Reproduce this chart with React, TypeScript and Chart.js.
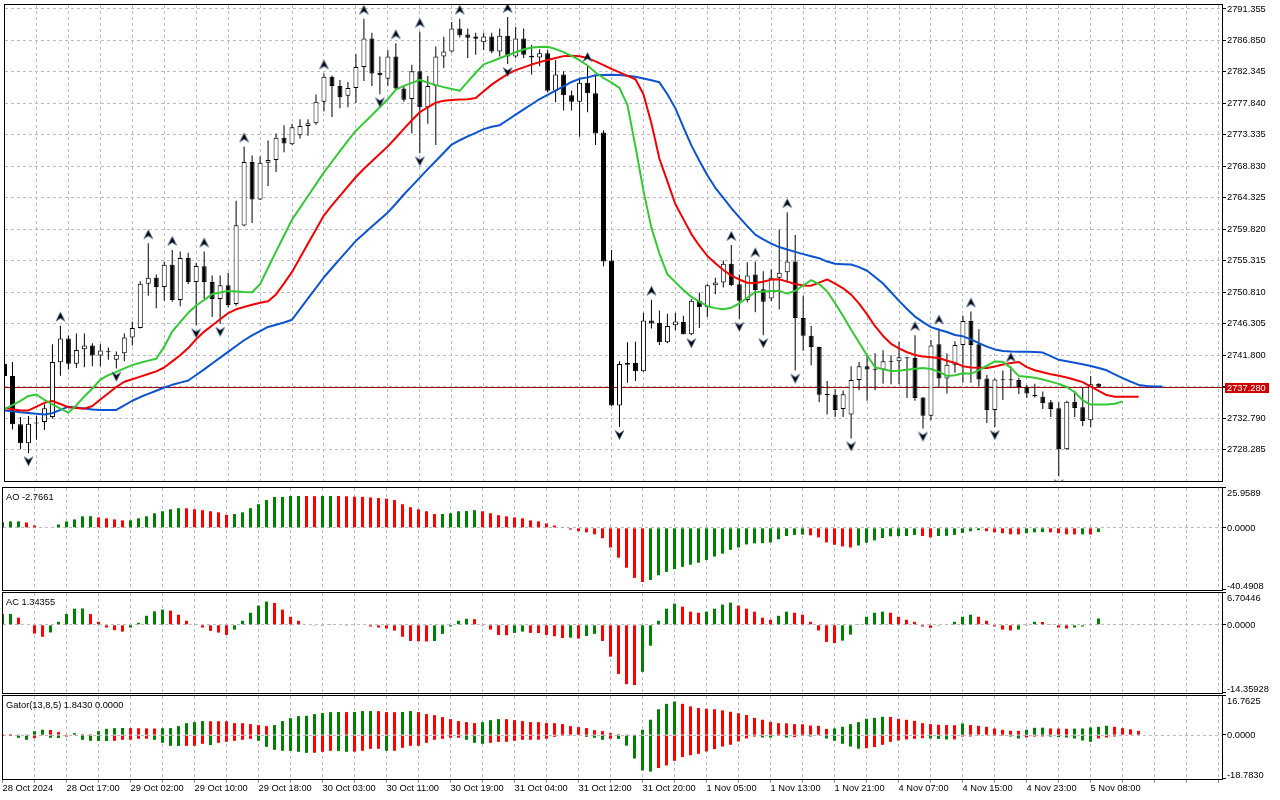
import React, { useEffect, useRef } from "react";
import { Chart, registerables } from "chart.js";

Chart.register(...registerables);

// ---------------- data ----------------
const openPrices = [
  2740.58,2738.80,2731.90,2729.17,2732.16,2732.23,2732.93,2740.77,2744.19,2740.58,
  2742.65,2743.17,2741.76,2742.32,2741.14,2742.08,2744.34,2745.70,2752.03,2752.88,
  2751.56,2754.75,2749.68,2755.70,2752.26,2754.51,2752.26,2749.83,2751.80,2749.12,
  2760.34,2769.43,2764.09,2769.35,2769.72,2772.91,2771.97,2773.29,2774.60,2774.98,
  2778.08,2781.64,2780.33,2778.92,2780.05,2783.05,2787.13,2782.21,2781.36,2784.56,
  2779.95,2778.45,2782.44,2777.28,2780.33,2784.56,2785.26,2788.54,2787.70,2787.41,
  2786.57,2787.41,2785.26,2787.51,2784.56,2787.13,2784.64,2784.41,2785.02,2779.63,
  2781.97,2779.01,2778.08,2780.80,2779.29,2773.66,2755.36,2734.58,2740.43,2740.67,
  2739.50,2746.77,2746.40,2743.63,2746.07,2746.54,2744.80,2749.59,2748.66,2751.80,
  2752.18,2754.89,2751.94,2749.68,2753.34,2751.23,2749.92,2752.88,2753.67,2755.22,
  2747.11,2744.57,2742.97,2736.20,2736.13,2734.10,2733.31,2738.24,2740.21,2739.77,
  2739.73,2740.87,2740.91,2741.43,2741.38,2735.75,2733.11,2743.35,2738.46,2740.43,
  2743.25,2746.68,2743.35,2738.46,2733.96,2738.28,2738.20,2738.24,2737.25,2736.03,
  2735.85,2735.04,2734.20,2728.33,2735.14,2734.34,2732.47,2737.72,
];
const highPrices = [
  2740.96,2740.82,2732.93,2733.07,2733.12,2734.76,2743.35,2746.02,2744.62,2744.90,
  2744.90,2743.49,2743.39,2742.88,2742.32,2744.90,2746.63,2752.36,2757.81,2753.34,
  2755.22,2756.86,2756.62,2756.44,2755.03,2756.62,2753.20,2753.20,2753.58,2763.90,
  2771.65,2770.38,2770.24,2772.53,2773.52,2774.70,2774.93,2775.55,2775.55,2779.11,
  2782.11,2781.83,2781.18,2780.89,2784.88,2789.94,2787.93,2784.56,2785.44,2786.43,
  2780.37,2783.37,2788.08,2781.74,2785.96,2787.37,2789.48,2789.95,2788.54,2787.93,
  2787.93,2787.93,2788.54,2790.19,2788.78,2788.54,2786.19,2785.58,2785.48,2784.04,
  2782.44,2779.67,2781.50,2783.19,2781.74,2774.00,2756.86,2740.91,2743.63,2743.73,
  2747.85,2749.73,2748.18,2747.71,2747.85,2747.43,2749.83,2750.77,2751.94,2752.88,
  2755.36,2757.57,2753.34,2755.08,2755.22,2753.81,2754.05,2759.78,2762.26,2758.98,
  2750.29,2745.98,2743.00,2738.10,2736.92,2736.73,2740.21,2740.82,2741.84,2742.08,
  2742.50,2741.80,2743.73,2741.48,2744.66,2735.80,2743.96,2745.60,2742.08,2743.77,
  2747.47,2748.04,2745.50,2738.94,2738.46,2739.59,2740.21,2738.56,2737.53,2737.72,
  2736.59,2735.37,2735.04,2735.28,2736.69,2737.15,2738.80,2737.79,
];
const lowPrices = [
  2738.56,2731.14,2728.33,2727.76,2729.69,2731.10,2732.69,2738.84,2739.73,2739.97,
  2740.07,2740.21,2740.21,2741.14,2739.87,2740.91,2743.17,2745.60,2750.29,2748.52,
  2749.59,2749.45,2748.80,2751.94,2746.07,2749.83,2747.25,2746.30,2748.66,2748.88,
  2760.24,2760.71,2764.00,2766.02,2768.03,2770.84,2771.89,2772.82,2773.19,2774.78,
  2776.67,2775.87,2777.14,2777.28,2777.88,2781.04,2780.33,2779.15,2780.37,2779.85,
  2778.08,2773.52,2770.70,2774.93,2771.89,2782.91,2785.12,2787.27,2784.32,2784.78,
  2785.48,2785.02,2784.56,2783.47,2784.32,2784.32,2781.97,2783.15,2779.39,2777.98,
  2776.81,2776.81,2773.05,2776.57,2771.89,2754.51,2734.50,2731.52,2737.86,2738.10,
  2739.41,2745.60,2743.25,2743.49,2745.36,2744.76,2744.66,2745.70,2747.25,2750.53,
  2751.47,2751.70,2747.01,2749.36,2747.95,2744.66,2749.54,2748.32,2752.18,2739.59,
  2742.41,2740.35,2735.04,2733.31,2732.93,2732.93,2729.88,2736.77,2735.28,2736.77,
  2737.72,2737.62,2737.62,2735.65,2735.28,2731.28,2732.47,2737.15,2736.31,2739.27,
  2737.86,2737.86,2737.39,2732.09,2731.52,2735.37,2737.06,2736.21,2735.65,2735.75,
  2734.10,2732.93,2724.48,2728.24,2732.93,2731.62,2731.52,2737.23,
];
const closePrices = [
  2738.80,2731.90,2729.17,2731.99,2732.02,2734.20,2740.82,2744.19,2740.58,2742.55,
  2743.17,2741.76,2742.46,2742.22,2741.84,2744.34,2745.70,2752.03,2752.88,2751.56,
  2754.75,2749.68,2755.70,2752.26,2754.57,2752.26,2749.83,2751.80,2748.98,2760.38,
  2769.43,2764.09,2769.35,2769.72,2772.91,2772.11,2774.42,2774.60,2774.98,2778.08,
  2781.64,2780.33,2778.73,2780.05,2783.05,2787.13,2782.11,2781.88,2784.56,2779.95,
  2778.36,2782.44,2777.28,2780.33,2784.56,2785.26,2788.54,2787.60,2787.23,2787.09,
  2787.41,2785.26,2787.51,2784.56,2787.13,2784.78,2784.41,2785.02,2779.63,2781.97,
  2779.01,2778.08,2780.80,2779.29,2773.52,2755.22,2734.58,2740.53,2740.67,2739.50,
  2746.77,2746.31,2743.63,2745.98,2746.63,2744.80,2749.59,2748.66,2751.80,2752.18,
  2754.89,2751.80,2749.59,2753.20,2751.13,2749.45,2752.88,2753.58,2755.22,2747.11,
  2744.57,2742.97,2736.13,2736.09,2733.96,2736.21,2738.24,2740.21,2739.73,2739.69,
  2740.91,2740.96,2741.48,2741.34,2735.65,2733.11,2743.17,2738.46,2740.43,2743.25,
  2746.68,2743.25,2738.32,2733.96,2738.32,2738.20,2738.28,2737.25,2736.31,2735.95,
  2734.95,2734.10,2728.33,2735.14,2734.24,2732.37,2737.62,2737.28,
];

// Alligator (jaw 13/8, teeth 8/5, lips 5/3) as drawn, shifted forward
const jawLine = [
  2733.89,2733.75,2733.61,2733.50,2733.40,2733.30,2733.50,2733.96,2734.42,2734.30,
  2734.16,2734.02,2733.96,2733.96,2733.96,2734.61,2735.27,2735.80,2736.25,2736.70,
  2737.16,2737.55,2737.86,2738.17,2738.96,2739.76,2740.61,2741.44,2742.27,2743.10,
  2743.93,2744.62,2745.22,2745.83,2746.15,2746.48,2746.87,2748.39,2749.91,2751.43,
  2752.95,2754.27,2755.57,2756.86,2758.16,2759.19,2760.20,2761.21,2762.23,2763.47,
  2764.79,2766.00,2767.21,2768.42,2769.58,2770.77,2771.94,2772.56,2773.10,2773.62,
  2774.15,2774.49,2774.72,2775.46,2776.22,2776.97,2777.71,2778.46,2779.07,2779.66,
  2780.26,2780.90,2781.35,2781.56,2781.87,2781.91,2781.95,2781.91,2781.78,2781.66,
  2781.40,2781.14,2780.85,2779.14,2777.12,2774.43,2771.82,2769.62,2767.56,2765.75,
  2764.30,2762.85,2761.51,2760.27,2759.05,2758.36,2757.77,2757.27,2756.91,2756.58,
  2756.26,2755.96,2755.68,2755.19,2754.88,2754.82,2754.77,2754.39,2753.88,2752.98,
  2752.05,2750.80,2749.56,2748.40,2747.32,2746.53,2745.81,2745.43,2745.11,2744.69,
  2744.49,2744.05,2743.52,2743.01,2742.62,2742.39,2742.31,2742.28,2742.27,2742.24,
  2742.17,2741.65,2741.13,2740.91,2740.70,2740.49,2740.25,2739.96,2739.63,2739.04,
  2738.51,2738.01,2737.54,2737.37,2737.32,2737.30,
];
const teethLine = [
  2734.19,2734.04,2733.89,2733.88,2734.42,2734.97,2735.24,2734.80,2734.35,2734.24,
  2734.14,2734.52,2735.44,2736.34,2737.24,2737.99,2738.35,2738.73,2739.10,2739.48,
  2740.03,2740.90,2741.79,2742.81,2744.07,2745.17,2746.04,2746.93,2747.80,2748.36,
  2748.69,2749.01,2749.30,2749.50,2750.49,2752.08,2753.71,2755.74,2757.77,2759.79,
  2761.82,2763.24,2764.59,2765.95,2767.30,2768.47,2769.54,2770.63,2771.68,2772.91,
  2774.18,2775.42,2776.57,2777.28,2777.94,2778.22,2778.33,2778.38,2778.42,2778.60,
  2779.56,2780.52,2781.30,2782.01,2782.59,2782.99,2783.39,2783.74,2784.04,2784.32,
  2784.60,2784.67,2784.57,2784.32,2783.85,2783.32,2782.77,2782.28,2781.78,2781.29,
  2779.15,2774.97,2769.91,2766.66,2763.40,2761.27,2759.13,2757.46,2755.99,2754.94,
  2753.99,2753.19,2752.63,2752.16,2752.11,2752.30,2752.61,2752.67,2752.32,2751.99,
  2751.77,2751.74,2752.18,2752.63,2752.04,2751.37,2750.46,2749.18,2747.64,2745.94,
  2744.55,2743.42,2742.77,2742.21,2741.83,2741.60,2741.49,2741.38,2741.00,2740.69,
  2740.22,2740.04,2740.01,2739.97,2740.18,2740.45,2740.66,2740.82,2740.08,2739.63,
  2739.34,2739.07,2738.85,2738.61,2738.28,2737.94,2737.28,2736.68,2736.09,2735.85,
  2735.85,2735.85,2735.85,
];
const lipsLine = [
  2734.06,2734.65,2735.24,2735.96,2736.17,2735.38,2734.76,2734.13,2733.57,2734.62,
  2735.89,2737.02,2738.28,2738.94,2739.41,2739.90,2740.37,2740.72,2741.01,2741.29,
  2743.01,2745.18,2746.53,2747.86,2748.91,2749.69,2750.53,2750.77,2750.98,2750.92,
  2750.84,2750.81,2751.94,2754.30,2756.61,2758.92,2761.20,2762.88,2764.58,2766.27,
  2767.96,2769.48,2770.99,2772.49,2773.93,2775.05,2776.15,2777.31,2778.43,2779.81,
  2780.35,2780.77,2781.18,2780.81,2780.45,2780.16,2779.90,2779.63,2780.94,2782.22,
  2783.42,2783.85,2784.30,2784.74,2785.16,2785.54,2785.84,2785.89,2785.95,2785.61,
  2785.18,2784.64,2784.01,2783.26,2782.25,2781.47,2780.80,2780.05,2777.59,2771.65,
  2765.34,2760.02,2756.34,2753.37,2752.25,2751.12,2750.14,2749.46,2748.80,2748.53,
  2748.36,2748.59,2749.19,2750.02,2750.81,2750.91,2750.97,2750.99,2750.60,2751.02,
  2751.77,2752.53,2751.97,2750.91,2749.22,2747.40,2745.43,2743.60,2741.76,2740.07,
  2739.76,2739.53,2739.56,2739.70,2739.84,2739.97,2739.82,2739.41,2738.82,2738.92,
  2739.20,2739.13,2739.66,2740.28,2740.89,2740.84,2739.97,2738.80,2738.69,2738.56,
  2738.30,2738.01,2737.68,2737.24,2736.49,2735.34,2734.72,2734.72,2734.72,2734.83,
  2735.18,
];

// bars carrying a fractal
const upFractalBars = [7, 18, 21, 25, 30, 40, 45, 49, 52, 57, 63, 73, 81, 91, 94, 98, 114, 117, 121, 126];
const downFractalBars = [3, 14, 24, 27, 47, 52, 63, 77, 86, 92, 95, 99, 106, 115, 124, 132];

const aoValues = [
  3.7,4.2,4.25,3.5,1.5,0.3,0.35,2.2,4.2,5.5,
  7.5,7.6,6.8,6.2,5.5,4.85,4.9,6.2,7.5,9.5,
  10.8,12.1,12.8,12.75,12.1,11.5,10.8,10.1,8.4,9.0,
  10.1,12.8,15.4,18.1,20.1,20.15,20.7,20.75,20.7,20.65,
  20.7,20.75,20.7,20.6,20.3,20.2,19.8,19.4,19.0,18.1,
  15.4,13.4,12.1,10.8,9.0,9.05,9.5,10.8,10.9,11.5,
  10.8,9.5,8.2,7.5,6.8,6.2,4.85,4.2,2.9,1.5,
  0.2,-1.1,-2.2,-2.9,-4.2,-6.8,-12.8,-19.4,-26.0,-32.6,
  -35.3,-33.95,-30.9,-28.7,-26.9,-25.4,-24.0,-22.7,-20.9,-18.7,
  -16.8,-14.3,-12.8,-10.8,-10.1,-10.0,-9.5,-7.5,-5.3,-4.6,
  -4.4,-4.85,-6.2,-9.5,-11.0,-12.1,-12.8,-11.5,-9.7,-8.2,
  -6.6,-5.5,-5.4,-5.3,-4.6,-5.3,-6.2,-5.3,-5.2,-4.6,
  -3.3,-2.2,-1.5,-2.2,-2.9,-3.5,-4.2,-4.25,-3.5,-2.9,
  -2.8,-2.9,-3.5,-4.2,-4.25,-4.2,-4.3,-2.77,
];
const acValues = [
  2.27,2.3,1.5,-0.1,-1.84,-2.5,-1.6,0.64,2.27,3.4,
  3.45,2.27,0.64,-0.57,-1.13,-1.42,-0.57,0.43,1.9,2.84,
  3.2,3.0,2.13,0.85,-0.1,-0.57,-1.28,-1.63,-2.13,-1.0,
  0.85,2.55,4.04,4.9,4.6,3.2,1.7,0.85,-0.1,-0.15,
  -0.05,0.05,0.0,-0.05,0.0,-0.1,-0.35,-0.57,-0.78,-1.2,
  -2.5,-3.4,-3.45,-3.5,-3.4,-1.9,-0.35,0.85,1.28,1.2,
  -0.05,-1.0,-2.13,-2.2,-1.7,-1.42,-1.7,-1.75,-2.13,-2.4,
  -2.77,-2.7,-2.9,-2.34,-1.9,-3.4,-6.7,-10.35,-12.5,-12.7,
  -9.9,-4.4,0.85,3.4,4.47,3.83,2.77,2.55,2.77,3.4,
  4.26,4.68,4.04,3.4,2.77,1.5,1.06,1.9,2.77,2.55,
  2.13,0.64,-1.2,-3.6,-3.83,-3.33,-2.06,0.05,1.7,2.55,
  2.77,2.55,1.7,1.06,0.64,-0.35,-0.64,-0.05,0.0,0.64,
  1.7,2.13,1.7,0.85,-0.35,-1.0,-1.2,-1.0,-0.05,0.64,
  0.6,0.15,-0.57,-0.78,-0.57,-0.35,0.15,1.34,
];
const gatorUpper = [
  0.43,0.43,0.1,0.1,1.71,2.29,2.2,1.29,0.14,0.86,
  0.43,0.4,1.71,2.71,3.0,3.05,3.0,2.95,2.9,2.85,
  2.95,3.0,3.86,5.14,5.57,6.0,5.98,5.96,5.94,5.14,
  5.1,4.71,4.29,3.86,4.29,6.0,7.29,8.14,8.29,9.0,
  9.43,9.86,9.88,9.85,9.9,10.29,10.3,10.27,9.86,9.84,
  9.9,10.29,9.86,9.0,8.57,7.71,6.86,6.0,5.57,5.14,
  5.57,6.43,6.86,6.84,6.43,6.0,5.57,5.55,5.14,5.12,
  4.71,3.86,3.43,3.0,2.14,1.71,0.86,0.43,0.1,0.3,
  2.3,6.6,11.1,13.4,14.4,13.4,12.3,11.6,11.3,11.1,
  10.6,10.0,9.4,8.6,7.4,6.6,5.7,5.1,5.05,4.7,
  4.65,4.1,4.0,2.7,2.86,3.57,4.7,5.57,7.0,7.4,
  7.86,7.8,7.0,6.57,6.14,5.14,4.71,4.43,4.29,4.25,
  5.0,4.29,4.0,3.57,2.86,2.29,1.86,1.8,2.29,3.14,
  3.2,2.86,2.8,2.75,2.8,2.85,3.29,3.57,4.0,3.57,
  3.0,2.5,1.84,
];
const gatorLower = [
  -0.05,-0.05,-1.14,-2.0,-1.29,-0.3,-1.14,-1.2,-0.6,-0.15,
  -2.0,-2.43,-2.45,-2.5,-2.43,-2.0,-1.95,-1.57,-1.55,-2.0,
  -3.29,-4.57,-4.6,-4.57,-4.55,-3.71,-4.29,-3.29,-2.86,-2.43,
  -2.0,-1.57,-2.43,-5.0,-6.29,-6.71,-6.75,-7.14,-7.57,-7.55,
  -7.14,-6.71,-6.75,-7.14,-7.1,-6.71,-5.86,-5.84,-6.71,-6.69,
  -5.43,-4.57,-4.55,-3.29,-2.0,-1.57,-1.14,-1.12,-2.0,-3.29,
  -3.71,-3.29,-2.86,-2.84,-2.43,-2.0,-1.98,-1.96,-1.57,-0.71,
  -0.29,-0.14,-0.16,-0.71,-1.14,-2.0,-1.57,-1.6,-4.5,-10.0,
  -15.1,-15.6,-14.1,-13.0,-11.0,-9.4,-8.6,-8.0,-7.0,-6.0,
  -4.9,-4.1,-2.7,-1.4,-0.6,-1.0,-1.05,-0.3,-1.0,-0.86,
  -0.3,-0.6,-0.3,-1.43,-2.43,-3.71,-4.86,-5.8,-5.6,-5.1,
  -4.14,-2.86,-2.29,-1.86,-1.57,-1.29,-1.43,-1.6,-1.86,-1.84,
  -0.6,-0.57,-0.3,-0.28,-0.05,-0.04,-0.57,-1.43,-1.0,-0.6,
  -0.55,-0.6,-0.86,-1.0,-1.43,-2.29,-2.86,-1.43,-1.0,-0.57,
  0,0,0,
];

const priceTicks = [
  2791.355, 2786.85, 2782.345, 2777.84, 2773.335, 2768.83, 2764.325, 2759.82,
  2755.315, 2750.81, 2746.305, 2741.8, 2737.295, 2732.79, 2728.285,
];
const timeLabels = [
  "28 Oct 2024", "28 Oct 17:00", "29 Oct 02:00", "29 Oct 10:00", "29 Oct 18:00",
  "30 Oct 03:00", "30 Oct 11:00", "30 Oct 19:00", "31 Oct 04:00", "31 Oct 12:00",
  "31 Oct 20:00", "1 Nov 05:00", "1 Nov 13:00", "1 Nov 21:00", "4 Nov 07:00",
  "4 Nov 15:00", "4 Nov 23:00", "5 Nov 08:00",
];
const currentPrice = 2737.28;
const aoAxisLabels = ["25.9589", "0.0000", "-40.4908"];
const acAxisLabels = ["6.70446", "0.0000", "-14.35928"];
const gatorAxisLabels = ["16.7625", "0.0000", "-18.7830"];
const aoTitle = "AO -2.7661";
const acTitle = "AC 1.34355";
const gatorTitle = "Gator(13,8,5) 1.8430 0.0000";

// ---------------- styling / layout ----------------
const FONT = "'Liberation Sans', Arial, sans-serif";
const FONT_SIZE = 9.3;
const GRID = "#bcbcc6";
const GREEN = "#008000";
const RED = "#ff0000";
const JAW = "#0b53d0";
const TEETH = "#f20000";
const LIPS = "#34c934";
const X_MIN = 0.0625;
const X_MAX = 152.4375;
const AXIS_W = 58;

Chart.defaults.font.family = FONT;
Chart.defaults.font.size = FONT_SIZE;
Chart.defaults.color = "#000";

const pts = (arr: number[]) => arr.map((v, i) => ({ x: i, y: v }));

function trendColors(vals: number[], useAbs: boolean, firstUp: boolean) {
  let up = firstUp;
  return vals.map((v, i) => {
    if (i > 0) {
      const cur = useAbs ? Math.abs(v) : v;
      const prev = useAbs ? Math.abs(vals[i - 1]) : vals[i - 1];
      if (cur > prev) up = true;
      else if (cur < prev) up = false;
    }
    return up ? GREEN : RED;
  });
}

function makeFractalImage(up: boolean) {
  const c = document.createElement("canvas");
  c.width = 11;
  c.height = 38;
  const g = c.getContext("2d") as CanvasRenderingContext2D;
  const cy = up ? 10 : 27;
  const d = up ? 1 : -1;
  g.beginPath();
  g.moveTo(5.5, cy - 4.5 * d);
  g.lineTo(10, cy + 4.5 * d);
  g.lineTo(5.5, cy + 1.5 * d);
  g.lineTo(1, cy + 4.5 * d);
  g.closePath();
  g.fillStyle = "#000";
  g.fill();
  g.strokeStyle = "rgba(80,110,160,0.85)";
  g.lineWidth = 0.8;
  g.stroke();
  return c;
}

const framePlugin = {
  id: "frame",
  afterDraw(chart: any) {
    const { ctx, chartArea: a } = chart;
    ctx.save();
    ctx.strokeStyle = "#000";
    ctx.lineWidth = 1;
    ctx.setLineDash([]);
    ctx.strokeRect(a.left - 0.5, a.top - 0.5, a.right - a.left + 1, a.bottom - a.top + 1);
    ctx.restore();
  },
};

const priceLinePlugin = {
  id: "priceLine",
  beforeDatasetsDraw(chart: any, _args: any, opts: any) {
    const { ctx, chartArea: a } = chart;
    const y = Math.round(chart.scales.y.getPixelForValue(opts.value)) + 0.5;
    ctx.save();
    ctx.strokeStyle = "#a80000";
    ctx.lineWidth = 1;
    ctx.beginPath();
    ctx.moveTo(a.left, y);
    ctx.lineTo(a.right + 3, y);
    ctx.stroke();
    ctx.restore();
  },
  afterDraw(chart: any, _args: any, opts: any) {
    const { ctx, chartArea: a } = chart;
    const y = Math.round(chart.scales.y.getPixelForValue(opts.value));
    ctx.save();
    ctx.fillStyle = "#cc0000";
    ctx.fillRect(a.right + 3, y - 4, 44, 10);
    ctx.fillStyle = "#fff";
    ctx.font = `${FONT_SIZE}px ${FONT}`;
    ctx.textBaseline = "middle";
    ctx.textAlign = "left";
    ctx.fillText(opts.value.toFixed(3), a.right + 5, y + 1);
    ctx.restore();
  },
};

const panelPlugin = {
  id: "panel",
  afterDraw(chart: any, _args: any, opts: any) {
    const { ctx, chartArea: a } = chart;
    const ys = chart.scales.y;
    ctx.save();
    ctx.font = `${FONT_SIZE}px ${FONT}`;
    ctx.fillStyle = "#000";
    ctx.strokeStyle = "#000";
    ctx.lineWidth = 1;
    ctx.textBaseline = "middle";
    ctx.textAlign = "left";
    ctx.fillText(opts.title, a.left + 3, a.top + 9);
    for (const s of opts.labels as string[]) {
      const p = ys.getPixelForValue(parseFloat(s));
      const ty = Math.min(Math.max(p, a.top + 4.5), a.bottom - 4.5);
      ctx.fillText(s, a.right + 5, ty + 0.5);
      const py = Math.min(Math.max(Math.round(p), a.top), a.bottom) - 0.5;
      ctx.beginPath();
      ctx.moveTo(a.right, py);
      ctx.lineTo(a.right + 4, py);
      ctx.stroke();
    }
    ctx.restore();
  },
};

function xScale(showLabels: boolean) {
  return {
    type: "linear",
    min: X_MIN,
    max: X_MAX,
    bounds: "data",
    offset: false,
    afterBuildTicks: (s: any) => {
      const t: any[] = [];
      for (let v = 0; v <= 152; v += 4) t.push({ value: v });
      s.ticks = t;
    },
    afterFit: (s: any) => {
      s.paddingLeft = 0;
      s.paddingRight = 0;
      s.height = showLabels ? 21 : 0;
    },
    grid: {
      color: GRID,
      offset: false,
      drawTicks: showLabels,
      tickLength: 4,
      tickColor: "#8c8c8c",
      tickBorderDash: [],
    },
    border: { display: false, dash: [3, 3] },
    ticks: showLabels
      ? {
          display: true,
          autoSkip: false,
          maxRotation: 0,
          minRotation: 0,
          align: "start",
          padding: 0,
          color: "#000",
          callback: (v: any) => {
            const n = Math.round(Number(v));
            return n % 8 === 0 && timeLabels[n / 8] ? timeLabels[n / 8] : "";
          },
        }
      : { display: false },
  };
}

function baseOptions(padding: any) {
  return {
    responsive: false,
    maintainAspectRatio: false,
    animation: false,
    devicePixelRatio: 1,
    events: [],
    layout: { padding },
  };
}

function mainConfig() {
  const upImg = makeFractalImage(true);
  const downImg = makeFractalImage(false);
  return {
    type: "bar",
    data: {
      datasets: [
        {
          type: "scatter",
          data: upFractalBars.map((i) => ({ x: i, y: highPrices[i] })),
          pointStyle: upImg,
          pointRadius: 4,
          order: 0,
        },
        {
          type: "scatter",
          data: downFractalBars.map((i) => ({ x: i, y: lowPrices[i] })),
          pointStyle: downImg,
          pointRadius: 4,
          order: 0,
        },
        { type: "line", data: pts(lipsLine), borderColor: LIPS, borderWidth: 2, pointRadius: 0, borderJoinStyle: "round", order: 1 },
        { type: "line", data: pts(teethLine), borderColor: TEETH, borderWidth: 2, pointRadius: 0, borderJoinStyle: "round", order: 1 },
        { type: "line", data: pts(jawLine), borderColor: JAW, borderWidth: 2, pointRadius: 0, borderJoinStyle: "round", order: 1 },
        {
          type: "bar",
          data: openPrices.map((o, i) => ({ x: i, y: [o, closePrices[i]] })),
          backgroundColor: openPrices.map((o, i) => (closePrices[i] >= o ? "#ffffff" : "#000000")),
          borderColor: "#000",
          borderWidth: 1,
          borderSkipped: false,
          barThickness: 5,
          maxBarThickness: 5,
          grouped: false,
          inflateAmount: 0,
          minBarLength: 1,
          order: 2,
        },
        {
          type: "bar",
          data: lowPrices.map((l, i) => ({ x: i, y: [l, highPrices[i]] })),
          backgroundColor: "#000",
          borderWidth: 0,
          barThickness: 1,
          maxBarThickness: 1,
          grouped: false,
          inflateAmount: 0,
          order: 3,
        },
      ],
    },
    options: {
      ...baseOptions({ left: 3, top: 1, bottom: 1, right: 0 }),
      plugins: {
        legend: { display: false },
        tooltip: { enabled: false },
        priceLine: { value: currentPrice },
      },
      scales: {
        x: xScale(false),
        y: {
          type: "linear",
          position: "right",
          min: 2723.783,
          max: 2791.918,
          bounds: "data",
          beginAtZero: false,
          afterBuildTicks: (s: any) => {
            s.ticks = priceTicks.map((v) => ({ value: v }));
          },
          afterFit: (s: any) => {
            s.width = AXIS_W;
            s.paddingTop = 0;
            s.paddingBottom = 0;
          },
          ticks: { autoSkip: false, padding: 1, callback: (v: any) => Number(v).toFixed(3) },
          grid: { color: GRID, drawTicks: true, tickLength: 4, tickColor: "#000", tickBorderDash: [] },
          border: { display: false, dash: [3, 3] },
        },
      },
    },
    plugins: [framePlugin, priceLinePlugin],
  };
}

function panelConfig(p: {
  datasets: any[];
  yMin: number;
  yMax: number;
  title: string;
  labels: string[];
  showTime: boolean;
  padding: any;
}) {
  return {
    type: "bar",
    data: { datasets: p.datasets },
    options: {
      ...baseOptions(p.padding),
      plugins: {
        legend: { display: false },
        tooltip: { enabled: false },
        panel: { title: p.title, labels: p.labels },
      },
      scales: {
        x: xScale(p.showTime),
        y: {
          type: "linear",
          position: "right",
          min: p.yMin,
          max: p.yMax,
          bounds: "data",
          beginAtZero: false,
          afterBuildTicks: (s: any) => {
            s.ticks = [{ value: 0 }];
          },
          afterFit: (s: any) => {
            s.width = AXIS_W;
            s.paddingTop = 0;
            s.paddingBottom = 0;
          },
          ticks: { display: false },
          grid: { color: GRID, drawTicks: false },
          border: { display: false, dash: [3, 3] },
        },
      },
    },
    plugins: [framePlugin, panelPlugin],
  };
}

const histBar = {
  type: "bar",
  borderWidth: 0,
  barThickness: 3,
  maxBarThickness: 3,
  grouped: false,
  inflateAmount: 0,
};

function aoConfig() {
  return panelConfig({
    datasets: [{ ...histBar, data: pts(aoValues), backgroundColor: trendColors(aoValues, false, true) }],
    yMin: -40.4908,
    yMax: 25.9589,
    title: aoTitle,
    labels: aoAxisLabels,
    showTime: false,
    padding: { left: 3, top: 1, bottom: 1, right: 0 },
  });
}

function acConfig() {
  return panelConfig({
    datasets: [{ ...histBar, data: pts(acValues), backgroundColor: trendColors(acValues, false, true) }],
    yMin: -14.35928,
    yMax: 6.70446,
    title: acTitle,
    labels: acAxisLabels,
    showTime: false,
    padding: { left: 3, top: 1, bottom: 1, right: 0 },
  });
}

function gatorConfig() {
  return panelConfig({
    datasets: [
      { ...histBar, data: pts(gatorUpper), backgroundColor: trendColors(gatorUpper, false, false) },
      { ...histBar, data: pts(gatorLower), backgroundColor: trendColors(gatorLower, true, false) },
    ],
    yMin: -18.783,
    yMax: 16.7625,
    title: gatorTitle,
    labels: gatorAxisLabels,
    showTime: true,
    padding: { left: 3, top: 1, bottom: 0, right: 0 },
  });
}

function ChartCanvas(props: { top: number; height: number; build: () => any }) {
  const ref = useRef<HTMLCanvasElement>(null);
  useEffect(() => {
    const chart = new Chart(ref.current as HTMLCanvasElement, props.build());
    return () => chart.destroy();
  }, []);
  return (
    <canvas
      ref={ref}
      width={1280}
      height={props.height}
      style={{ position: "absolute", left: 0, top: props.top, width: 1280, height: props.height }}
    />
  );
}

export default function App() {
  return (
    <div
      style={{
        position: "fixed",
        left: 0,
        top: 0,
        width: 1280,
        height: 800,
        background: "#ffffff",
        overflow: "hidden",
      }}
    >
      <ChartCanvas top={0} height={486} build={mainConfig} />
      <ChartCanvas top={487} height={104} build={aoConfig} />
      <ChartCanvas top={592} height={102} build={acConfig} />
      <ChartCanvas top={695} height={105} build={gatorConfig} />
    </div>
  );
}
